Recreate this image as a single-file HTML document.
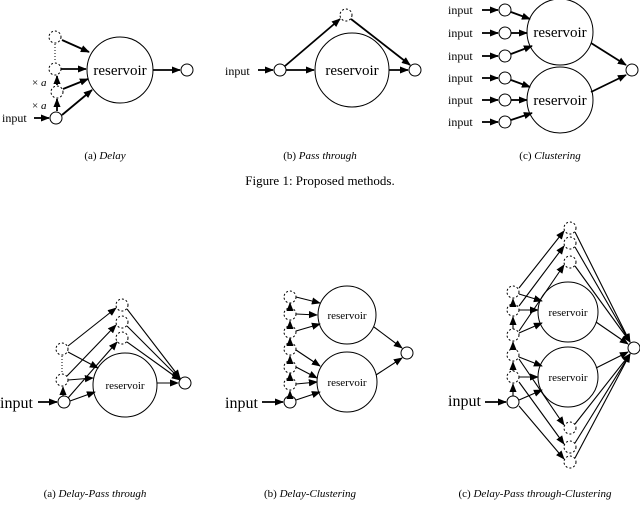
<!DOCTYPE html>
<html><head><meta charset="utf-8"><style>
html,body{margin:0;padding:0;background:#fff;}
svg{display:block;font-family:"Liberation Serif","Times New Roman",serif;}
</style></head><body>
<svg width="640" height="515" viewBox="0 0 640 515" xmlns="http://www.w3.org/2000/svg">
<defs>
<marker id="b" viewBox="0 0 10 10" refX="9" refY="5" markerWidth="9" markerHeight="9" orient="auto" markerUnits="userSpaceOnUse"><path d="M0,1L10,5L0,9z" fill="#000"/></marker>
</defs>
<g fill="none" stroke="#000" stroke-width="1">
<!-- Fig1a -->
<circle cx="120" cy="70" r="33"/>
<circle cx="56" cy="118" r="6"/>
<circle cx="55" cy="37" r="6" stroke-dasharray="2,2"/>
<circle cx="55" cy="69" r="6" stroke-dasharray="2,2"/>
<circle cx="57" cy="92" r="6" stroke-dasharray="2,2"/>
<circle cx="187" cy="70" r="6"/>
<line x1="55" y1="44" x2="55" y2="62" stroke-dasharray="1,2"/>
<g stroke-width="1.8" marker-end="url(#b)">
<line x1="34" y1="118" x2="49" y2="118"/>
<line x1="62" y1="40" x2="89" y2="52"/>
<line x1="61" y1="69" x2="86" y2="69"/>
<line x1="63" y1="89" x2="88" y2="79"/>
<line x1="62" y1="115" x2="92" y2="90"/>
<line x1="153" y1="70" x2="180" y2="70"/>
<line x1="57" y1="111" x2="57" y2="99"/>
<line x1="57" y1="85" x2="57" y2="76"/>
</g>
<!-- Fig1b -->
<circle cx="352" cy="70" r="37"/>
<circle cx="280" cy="70" r="6"/>
<circle cx="346" cy="15" r="6" stroke-dasharray="2,2"/>
<circle cx="415" cy="70" r="6"/>
<g stroke-width="1.8" marker-end="url(#b)">
<line x1="258" y1="70" x2="273" y2="70"/>
<line x1="286" y1="70" x2="314" y2="70"/>
<line x1="285" y1="66" x2="340" y2="19"/>
<line x1="351" y1="19" x2="410" y2="65"/>
<line x1="389" y1="70" x2="408" y2="70"/>
</g>
<!-- Fig1c -->
<circle cx="560" cy="32" r="33"/>
<circle cx="560" cy="100" r="33"/>
<circle cx="632" cy="70" r="6"/>
<g>
<circle cx="505" cy="10" r="6"/><circle cx="505" cy="33" r="6"/><circle cx="505" cy="56" r="6"/>
<circle cx="505" cy="78" r="6"/><circle cx="505" cy="100" r="6"/><circle cx="505" cy="122" r="6"/>
</g>
<g stroke-width="1.8" marker-end="url(#b)">
<line x1="482" y1="10" x2="498" y2="10"/><line x1="482" y1="33" x2="498" y2="33"/><line x1="482" y1="56" x2="498" y2="56"/>
<line x1="482" y1="78" x2="498" y2="78"/><line x1="482" y1="100" x2="498" y2="100"/><line x1="482" y1="122" x2="498" y2="122"/>
<line x1="511" y1="12" x2="530" y2="19"/><line x1="511" y1="33" x2="527" y2="33"/><line x1="511" y1="54" x2="532" y2="46"/>
<line x1="511" y1="80" x2="530" y2="87"/><line x1="511" y1="100" x2="527" y2="100"/><line x1="511" y1="120" x2="532" y2="113"/>
<line x1="591" y1="43" x2="626" y2="65"/><line x1="591" y1="92" x2="626" y2="75"/>
</g>
<!-- Fig2a -->
<circle cx="125" cy="385" r="32"/>
<circle cx="64" cy="402" r="6"/>
<circle cx="62" cy="349" r="6" stroke-dasharray="2,2"/>
<circle cx="62" cy="380" r="6" stroke-dasharray="2,2"/>
<line x1="62" y1="356" x2="62" y2="373" stroke-dasharray="1,2"/>
<circle cx="122" cy="305" r="6" stroke-dasharray="2,2"/>
<circle cx="122" cy="322" r="6" stroke-dasharray="2,2"/>
<circle cx="122" cy="338" r="6" stroke-dasharray="2,2"/>
<circle cx="185" cy="383" r="6"/>
<g stroke-width="1.8" marker-end="url(#b)"><line x1="38" y1="402" x2="57" y2="402"/></g>
<g stroke-width="1.1" marker-end="url(#b)">
<line x1="63" y1="396" x2="63" y2="387"/>
<line x1="68" y1="346" x2="116" y2="308"/>
<line x1="68" y1="352" x2="98" y2="368"/>
<line x1="67" y1="376" x2="116" y2="325"/>
<line x1="68" y1="380" x2="93" y2="378"/>
<line x1="68" y1="398" x2="117" y2="342"/>
<line x1="70" y1="401" x2="95" y2="392"/>
<line x1="127" y1="309" x2="180" y2="378"/>
<line x1="127" y1="326" x2="180" y2="379"/>
<line x1="127" y1="342" x2="180" y2="380"/>
<line x1="157" y1="383" x2="178" y2="383"/>
</g>
<!-- Fig2b -->
<circle cx="347" cy="315" r="29"/>
<circle cx="347" cy="382" r="30"/>
<circle cx="407" cy="353" r="6"/>
<circle cx="290" cy="402" r="6"/>
<g stroke-dasharray="2,2">
<circle cx="290" cy="297" r="6"/><circle cx="290" cy="314" r="6"/><circle cx="290" cy="332" r="6"/>
<circle cx="290" cy="349" r="6"/><circle cx="290" cy="367" r="6"/><circle cx="290" cy="384" r="6"/>
</g>
<g stroke-width="1.8" marker-end="url(#b)"><line x1="262" y1="402" x2="283" y2="402"/></g>
<g stroke-width="1.1" marker-end="url(#b)">
<line x1="290" y1="396" x2="290" y2="391"/><line x1="290" y1="378" x2="290" y2="373"/><line x1="290" y1="361" x2="290" y2="356"/>
<line x1="290" y1="343" x2="290" y2="338"/><line x1="290" y1="326" x2="290" y2="321"/><line x1="290" y1="308" x2="290" y2="303"/>
<line x1="296" y1="297" x2="320" y2="303"/><line x1="296" y1="314" x2="317" y2="315"/><line x1="296" y1="331" x2="320" y2="324"/>
<line x1="296" y1="350" x2="320" y2="366"/><line x1="296" y1="367" x2="317" y2="378"/><line x1="296" y1="400" x2="320" y2="392"/>
<line x1="296" y1="384" x2="317" y2="382"/>
<line x1="374" y1="327" x2="402" y2="348"/><line x1="376" y1="375" x2="402" y2="358"/>
</g>
<!-- Fig2c -->
<circle cx="568" cy="312" r="30"/>
<circle cx="568" cy="377" r="30"/>
<circle cx="634" cy="348" r="6"/>
<circle cx="513" cy="402" r="6"/>
<g stroke-dasharray="2,2">
<circle cx="513" cy="292" r="6"/><circle cx="513" cy="310" r="6"/><circle cx="513" cy="335" r="6"/>
<circle cx="513" cy="355" r="6"/><circle cx="513" cy="377" r="6"/>
<circle cx="570" cy="228" r="6"/><circle cx="570" cy="243" r="6"/><circle cx="570" cy="262" r="6"/>
<circle cx="570" cy="428" r="6"/><circle cx="570" cy="447" r="6"/><circle cx="570" cy="462" r="6"/>
</g>
<g stroke-width="1.8" marker-end="url(#b)"><line x1="485" y1="402" x2="506" y2="402"/></g>
<g stroke-width="1.1" marker-end="url(#b)">
<line x1="513" y1="396" x2="513" y2="384"/><line x1="513" y1="371" x2="513" y2="362"/><line x1="513" y1="349" x2="513" y2="342"/>
<line x1="513" y1="329" x2="513" y2="317"/><line x1="513" y1="304" x2="513" y2="299"/>
<line x1="519" y1="288" x2="564" y2="231"/><line x1="519" y1="306" x2="564" y2="246"/><line x1="519" y1="331" x2="564" y2="265"/>
<line x1="519" y1="359" x2="564" y2="425"/><line x1="519" y1="382" x2="564" y2="444"/><line x1="519" y1="406" x2="564" y2="459"/>
<line x1="519" y1="294" x2="542" y2="301"/><line x1="519" y1="310" x2="538" y2="310"/><line x1="519" y1="333" x2="542" y2="323"/>
<line x1="519" y1="357" x2="542" y2="366"/><line x1="519" y1="377" x2="538" y2="377"/><line x1="519" y1="400" x2="542" y2="390"/>
<line x1="575" y1="232" x2="630" y2="342"/><line x1="575" y1="247" x2="630" y2="342"/><line x1="575" y1="266" x2="630" y2="342"/>
<line x1="575" y1="424" x2="630" y2="354"/><line x1="575" y1="443" x2="630" y2="354"/><line x1="575" y1="458" x2="630" y2="354"/>
<line x1="596" y1="322" x2="628" y2="344"/><line x1="596" y1="368" x2="628" y2="352"/>
</g>
</g>
<g fill="#000">
<text x="120" y="75" font-size="15" text-anchor="middle">reservoir</text>
<text x="2" y="122" font-size="12">input</text>
<text x="32" y="86" font-size="11">× <tspan font-style="italic">a</tspan></text>
<text x="32" y="109" font-size="11">× <tspan font-style="italic">a</tspan></text>
<text x="352" y="75" font-size="15" text-anchor="middle">reservoir</text>
<text x="225" y="75" font-size="12">input</text>
<text x="560" y="37" font-size="15" text-anchor="middle">reservoir</text>
<text x="560" y="105" font-size="15" text-anchor="middle">reservoir</text>
<g font-size="12">
<text x="448" y="14">input</text><text x="448" y="37">input</text><text x="448" y="60">input</text>
<text x="448" y="82">input</text><text x="448" y="104">input</text><text x="448" y="126">input</text>
</g>
<text x="105" y="159" font-size="11" text-anchor="middle">(a) <tspan font-style="italic">Delay</tspan></text>
<text x="320" y="159" font-size="11" text-anchor="middle">(b) <tspan font-style="italic">Pass through</tspan></text>
<text x="550" y="159" font-size="11" text-anchor="middle">(c) <tspan font-style="italic">Clustering</tspan></text>
<text x="320" y="185" font-size="13" text-anchor="middle">Figure 1: Proposed methods.</text>
<text x="125" y="389" font-size="11" text-anchor="middle">reservoir</text>
<text x="0" y="408" font-size="16">input</text>
<text x="347" y="319" font-size="11" text-anchor="middle">reservoir</text>
<text x="347" y="386" font-size="11" text-anchor="middle">reservoir</text>
<text x="225" y="408" font-size="16">input</text>
<text x="568" y="316" font-size="11" text-anchor="middle">reservoir</text>
<text x="568" y="381" font-size="11" text-anchor="middle">reservoir</text>
<text x="448" y="406" font-size="16">input</text>
<text x="95" y="497" font-size="11" text-anchor="middle">(a) <tspan font-style="italic">Delay-Pass through</tspan></text>
<text x="310" y="497" font-size="11" text-anchor="middle">(b) <tspan font-style="italic">Delay-Clustering</tspan></text>
<text x="535" y="497" font-size="11" text-anchor="middle">(c) <tspan font-style="italic">Delay-Pass through-Clustering</tspan></text>
<text x="320" y="525" font-size="13" text-anchor="middle">Figure 2: Examples of combining proposed methods.</text>
</g>
</svg>
</body></html>
